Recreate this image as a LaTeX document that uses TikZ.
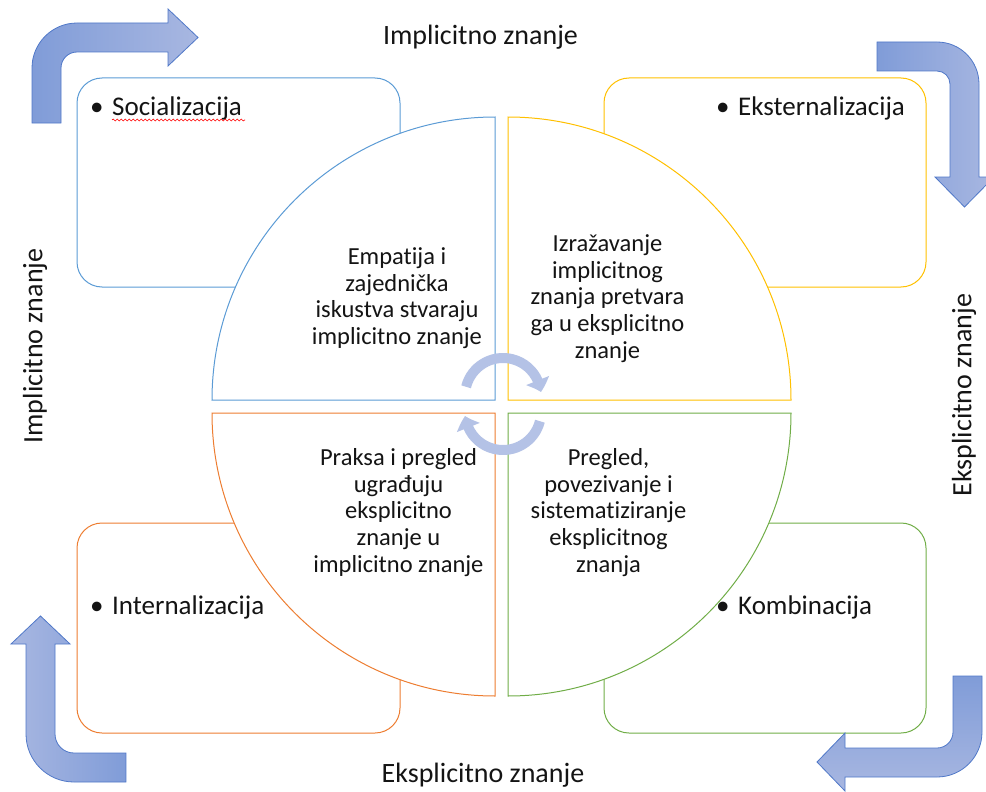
\documentclass[tikz,border=0pt]{standalone}
\usepackage{fontspec}
\setmainfont{Carlito}[Ligatures=NoCommon]
\usetikzlibrary{arrows.meta,decorations.pathmorphing,bending}
\definecolor{cblue}{RGB}{91,155,213}
\definecolor{cyel}{RGB}{255,192,0}
\definecolor{corg}{RGB}{237,125,49}
\definecolor{cgrn}{RGB}{112,173,71}
\definecolor{adark}{RGB}{128,156,216}
\definecolor{alight}{RGB}{168,183,225}
\definecolor{aedge}{RGB}{80,120,200}
\definecolor{circ}{RGB}{180,194,230}
\definecolor{txt}{RGB}{20,20,20}
\tikzset{
  box/.style={draw, line width=1pt, rounded corners=25pt},
  quarter/.style={draw, fill=white, line width=1pt},
  bent/.style={draw=aedge, line width=0.8pt},
  bigtxt/.style={font=\fontsize{28}{34}\selectfont, text=txt, inner sep=0pt},
  bultxt/.style={font=\fontsize{27}{32}\selectfont, text=txt, inner sep=0pt, anchor=base west},
  qtxt/.style={font=\fontsize{24.5}{26.6}\selectfont, text=txt, align=center, inner sep=0pt},
  circarrow/.style={draw=circ, line width=10pt, -{Triangle[width=24pt,length=12pt,bend]}}
}
\begin{document}
\begin{tikzpicture}[x=1pt,y=-1pt]
\useasboundingbox (0,0) rectangle (986,792);
% boxes
\draw[box, draw=cblue] (77,78) rectangle (400,287);
\draw[box, draw=cyel] (604,78) rectangle (926,287);
\draw[box, draw=corg] (77,523) rectangle (400,733);
\draw[box, draw=cgrn] (604,523) rectangle (926,733);
% quarters
\draw[quarter, draw=cblue] (495,400) -- (212,400) arc[start angle=180,end angle=90,radius=283pt] -- cycle;
\draw[quarter, draw=cyel] (508,400) -- (508,117) arc[start angle=90,end angle=0,radius=283pt] -- cycle;
\draw[quarter, draw=corg] (495,413) -- (495,696) arc[start angle=270,end angle=180,radius=283pt] -- cycle;
\draw[quarter, draw=cgrn] (508,413) -- (791,413) arc[start angle=0,end angle=-90,radius=283pt] -- cycle;
% bent arrows
\draw[bent, left color=adark, right color=alight] (32,123) -- (32,68) arc[start angle=180,end angle=90,radius=45pt] -- (168,23) -- (168,9) -- (198,37.5) -- (168,66) -- (168,52) -- (77,52) arc[start angle=90,end angle=180,radius=16pt] -- (61,123) -- cycle;
\draw[bent, left color=adark, right color=alight] (877,42) -- (937,42) arc[start angle=90,end angle=0,radius=42pt] -- (979,177) -- (994,177) -- (964.5,207) -- (935,177) -- (950,177) -- (950,84) arc[start angle=0,end angle=90,radius=13pt] -- (877,71) -- cycle;
\draw[bent, left color=alight, right color=adark] (40.5,616) -- (70,644) -- (55,644) -- (55,734) arc[start angle=180,end angle=270,radius=19pt] -- (126,753) -- (126,782) -- (74,782) arc[start angle=270,end angle=180,radius=48pt] -- (26,644) -- (11,644) -- cycle;
\draw[bent, top color=adark, bottom color=alight] (953,676) -- (982,676) -- (982,732) arc[start angle=0,end angle=-90,radius=45pt] -- (845,777) -- (845,791) -- (817,762) -- (845,733) -- (845,748) -- (937,748) arc[start angle=-90,end angle=0,radius=16pt] -- cycle;
% circular arrows
\draw[circarrow] (466.1,386.8) arc[start angle=166,end angle=6,radius=38pt];
\draw[circarrow] (539.9,421.2) arc[start angle=-14,end angle=-174,radius=38pt];
% outer labels
\node[bigtxt] (ttop) at (480.5,37) {Implicitno znanje};
\node[bigtxt] (tbot) at (483,775) {Eksplicitno znanje};
\node[bigtxt, rotate=90] (tleft) at (35,346) {Implicitno znanje};
\node[bigtxt, rotate=90] (tright) at (964,395) {Eksplicitno znanje};
% bullets
\node[bultxt] (soc) at (90,115) {\makebox[22pt][l]{•}Socializacija};
\draw[red, line width=0.6pt, decorate, decoration={snake, amplitude=1pt, segment length=4pt}] (112,120) -- (245,120);
\node[bultxt] (eks) at (716,115) {\makebox[22pt][l]{•}Eksternalizacija};
\node[bultxt] (int) at (90,614) {\makebox[22pt][l]{•}Internalizacija};
\node[bultxt] (kom) at (716,614) {\makebox[22pt][l]{•}Kombinacija};
% quarter texts
\node[qtxt] (q1) at (397,298) {Empatija i\\zajednička\\iskustva stvaraju\\implicitno znanje};
\node[qtxt] (q2) at (607.5,298.5) {Izražavanje\\implicitnog\\znanja pretvara\\ga u eksplicitno\\znanje};
\node[qtxt] (q3) at (398.5,512.5) {Praksa i pregled\\ugrađuju\\eksplicitno\\znanje u\\implicitno znanje};
\node[qtxt] (q4) at (608.5,512.5) {Pregled,\\povezivanje i\\sistematiziranje\\eksplicitnog\\znanja};
\end{tikzpicture}
\end{document}
